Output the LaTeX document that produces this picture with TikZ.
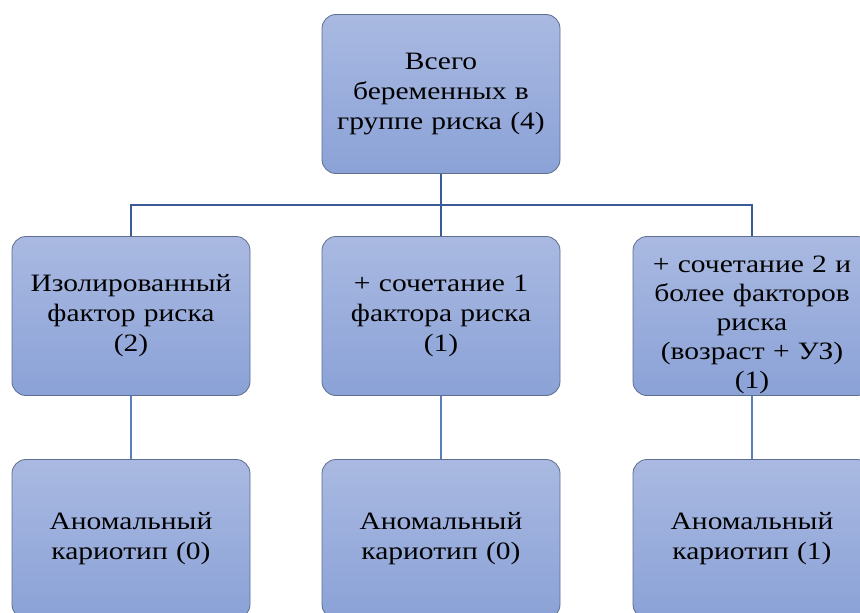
\documentclass[tikz,border=0pt]{standalone}
\usepackage{fontspec}
\setmainfont{Liberation Serif}[FakeStretch=1.18]
\definecolor{boxtop}{HTML}{A9B9E1}
\definecolor{boxbot}{HTML}{8BA2D7}
\definecolor{boxline}{HTML}{5E6E8E}
\definecolor{barline}{HTML}{3A5A98}
\definecolor{subline}{HTML}{5A7EC0}
\tikzset{
  orgbox/.style={rectangle, rounded corners=14pt, draw=boxline, line width=0.8pt,
    top color=boxtop, bottom color=boxbot, minimum width=238pt, minimum height=159pt,
    text width=236pt, align=center, inner sep=0pt,
    font=\fontsize{25pt}{30pt}\selectfont, text=black},
  boxtext/.style={text width=236pt, align=center, inner sep=0pt,
    font=\fontsize{25pt}{29pt}\selectfont, text=black},
  bar/.style={draw=barline, line width=2.4pt},
  sub/.style={draw=subline, line width=1.6pt}
}
\begin{document}
\begin{tikzpicture}[x=1pt,y=-1pt]
\useasboundingbox (0,0) rectangle (860,613);
\clip (0,0) rectangle (860,613);
\fill[white] (0,0) rectangle (860,613);
\node[orgbox] (top) at (441,94) {Всего\\беременных в\\группе риска (4)};
\node[orgbox] (m1) at (131,316) {Изолированный\\фактор риска\\(2)};
\node[orgbox] (m2) at (441,316) {+ сочетание 1\\фактора риска\\(1)};
\node[orgbox] (m3) at (752,316) {};
\node[boxtext] (m3t) at (752,325) {+ сочетание 2 и\\более факторов\\риска\\(возраст + УЗ)\\(1)};
\node[orgbox] (b1) at (131,539) {Аномальный\\кариотип (0)};
\node[orgbox] (b2) at (441,539) {Аномальный\\кариотип (0)};
\node[orgbox] (b3) at (752,539) {Аномальный\\кариотип (1)};
\coordinate (j) at (441,205);
\draw[bar] (top.south) -- (j);
\draw[bar] (m1.north) |- (j) -| (m3.north);
\draw[bar] (j) -- (m2.north);
\draw[sub] (m1.south) -- (b1.north);
\draw[sub] (m2.south) -- (b2.north);
\draw[sub] (m3.south) -- (b3.north);
\end{tikzpicture}
\end{document}
